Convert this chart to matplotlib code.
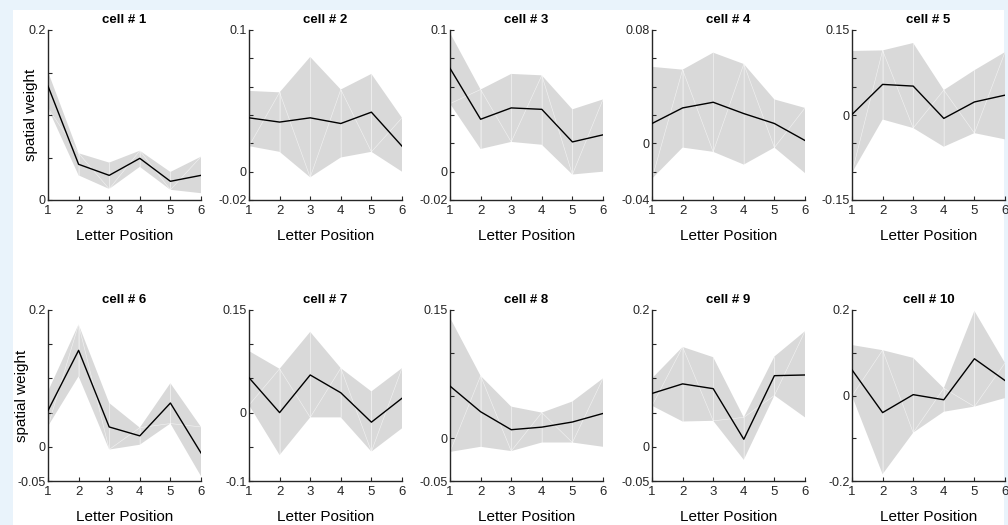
import numpy as np
import matplotlib
matplotlib.use("Agg")
import matplotlib.pyplot as plt
from matplotlib.patches import Rectangle

plt.rcParams['font.family'] = ['Liberation Sans', 'DejaVu Sans']

letter_pos = [1, 2, 3, 4, 5, 6]
cell_names = ['cell # %d' % i for i in range(1, 11)]

mean_w = [
    [0.134, 0.042, 0.029, 0.049, 0.022, 0.029],
    [0.038, 0.035, 0.038, 0.034, 0.042, 0.018],
    [0.073, 0.037, 0.045, 0.044, 0.021, 0.026],
    [0.014, 0.025, 0.029, 0.021, 0.014, 0.002],
    [0.001, 0.054, 0.051, -0.006, 0.023, 0.035],
    [0.053, 0.141, 0.029, 0.016, 0.064, -0.009],
    [0.051, 0.000, 0.055, 0.029, -0.014, 0.021],
    [0.061, 0.031, 0.010, 0.013, 0.019, 0.029],
    [0.078, 0.092, 0.085, 0.011, 0.104, 0.105],
    [0.060, -0.040, 0.002, -0.010, 0.086, 0.035],
]
upper_w = [
    [0.151, 0.055, 0.044, 0.058, 0.033, 0.051],
    [0.057, 0.056, 0.081, 0.058, 0.069, 0.038],
    [0.098, 0.058, 0.069, 0.068, 0.044, 0.051],
    [0.054, 0.052, 0.064, 0.056, 0.031, 0.025],
    [0.113, 0.114, 0.127, 0.044, 0.079, 0.111],
    [0.081, 0.179, 0.064, 0.028, 0.093, 0.029],
    [0.090, 0.064, 0.118, 0.065, 0.031, 0.065],
    [0.141, 0.073, 0.037, 0.030, 0.043, 0.070],
    [0.100, 0.146, 0.131, 0.043, 0.132, 0.169],
    [0.118, 0.106, 0.088, 0.017, 0.198, 0.076],
]
lower_w = [
    [0.108, 0.029, 0.013, 0.039, 0.012, 0.008],
    [0.018, 0.014, -0.004, 0.010, 0.014, 0.000],
    [0.048, 0.016, 0.021, 0.019, -0.002, 0.000],
    [-0.025, -0.003, -0.006, -0.015, -0.003, -0.021],
    [-0.102, -0.008, -0.023, -0.056, -0.032, -0.043],
    [0.030, 0.103, -0.004, 0.003, 0.034, -0.043],
    [0.011, -0.062, -0.007, -0.007, -0.057, -0.023],
    [-0.016, -0.010, -0.015, -0.005, -0.005, -0.010],
    [0.060, 0.037, 0.038, -0.019, 0.075, 0.043],
    [-0.001, -0.184, -0.087, -0.038, -0.026, -0.006],
]
# (ymin, ymax, tick step)
y_range = [
    (0, 0.2, 0.05), (-0.02, 0.1, 0.02), (-0.02, 0.1, 0.02), (-0.04, 0.08, 0.02), (-0.15, 0.15, 0.05),
    (-0.05, 0.2, 0.05), (-0.1, 0.15, 0.05), (-0.05, 0.15, 0.05), (-0.05, 0.2, 0.05), (-0.2, 0.2, 0.1),
]

W, H = 1008, 525
fig = plt.figure(figsize=(W / 100, H / 100), dpi=100, facecolor='#e9f3fb')
fig.patches.append(Rectangle((13 / W, 0), (1004 - 13) / W, 515 / H, transform=fig.transFigure,
                             fc='white', ec='none', zorder=-10))

lefts = [48, 249, 450, 652, 852]
tops = [30, 310]
heights = [170, 171]
label_x = [-0.066, -0.125]
axc = '#262626'

for k in range(10):
    r, c = divmod(k, 5)
    ax = fig.add_axes([lefts[c] / W, 1 - (tops[r] + heights[r]) / H, 153 / W, heights[r] / H])
    x = letter_pos
    lo, up, m = lower_w[k], upper_w[k], mean_w[k]
    for i in range(5):
        ax.fill([x[i], x[i + 1], x[i + 1], x[i]], [lo[i], lo[i + 1], up[i + 1], up[i]],
                fc='#d9d9d9', ec='none', zorder=1)
    # faint triangle seams of the patch
    for i in range(6):
        ax.plot([x[i], x[i]], [lo[i], up[i]], color='white', lw=0.4, alpha=0.7, zorder=2)
    for i in range(5):
        if i % 2 == 0:
            ax.plot([x[i], x[i + 1]], [lo[i], up[i + 1]], color='white', lw=0.4, alpha=0.7, zorder=2)
        else:
            ax.plot([x[i], x[i + 1]], [up[i], lo[i + 1]], color='white', lw=0.4, alpha=0.7, zorder=2)
    ax.plot(x, m, color='black', lw=1.0, zorder=3)

    ymin, ymax, step = y_range[k]
    ax.set_xlim(1, 6)
    ax.set_ylim(ymin, ymax)
    ax.set_xticks(x)
    yt = np.round(np.arange(ymin, ymax + step / 2, step), 4)
    ax.set_yticks(yt)
    ax.set_yticklabels(['%g' % v if (v in (ymin, ymax) or abs(v) < 1e-9) else '' for v in yt])
    for s in ('top', 'right'):
        ax.spines[s].set_visible(False)
    for s in ('left', 'bottom'):
        ax.spines[s].set_color(axc)
        ax.spines[s].set_linewidth(1.0)
    ax.tick_params(direction='in', length=3, width=0.8, colors=axc)
    ax.tick_params(axis='x', labelsize=9.5, pad=3.5)
    ax.tick_params(axis='y', labelsize=9, pad=1.5)
    ax.set_facecolor('none')
    ax.set_title(cell_names[k], fontsize=9.5, fontweight='bold', pad=5)
    ax.set_xlabel('Letter Position', fontsize=11, labelpad=9)
    if c == 0:
        ax.set_ylabel('spatial weight', fontsize=11)
        ax.yaxis.set_label_coords(label_x[r], 0.5)

fig.savefig('out.png', dpi=100, facecolor=fig.get_facecolor())
